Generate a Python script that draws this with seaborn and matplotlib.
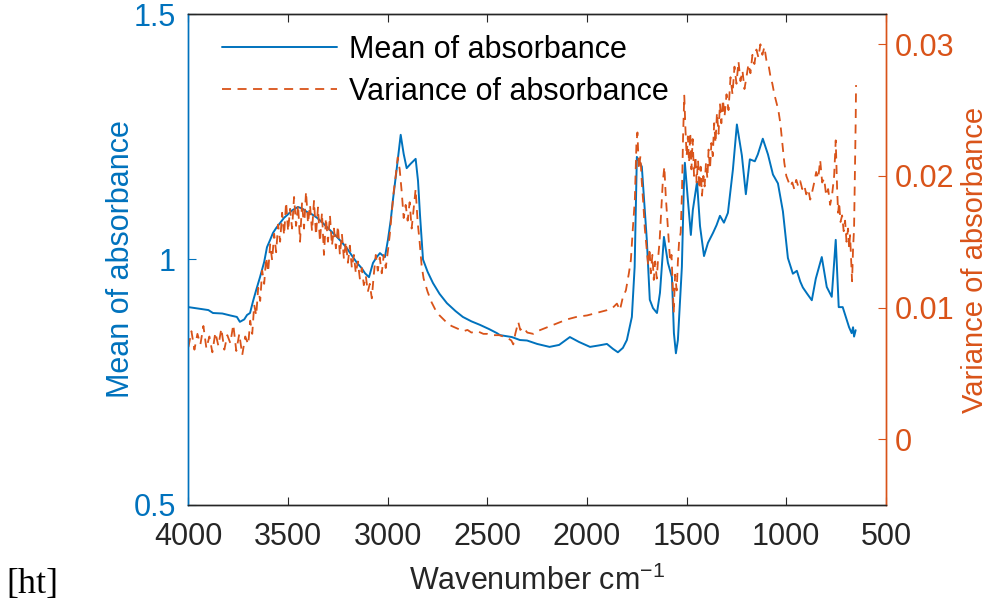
import matplotlib
matplotlib.use("Agg")
import matplotlib.pyplot as plt
import seaborn as sns
import pandas as pd

# ---------------- data ----------------
mean_wn = [4000, 3950, 3900, 3877, 3830, 3790, 3757, 3742, 3720, 3706, 3691, 3676, 3660, 3641,
           3620, 3606, 3590, 3576, 3560, 3541, 3520, 3506, 3480, 3451, 3430, 3406, 3380, 3355,
           3330, 3305, 3280, 3255, 3230, 3205, 3180, 3154, 3130, 3114, 3094, 3074, 3055, 3039,
           3025, 3014, 2999, 2985, 2974, 2954, 2935, 2920, 2905, 2885, 2860, 2848, 2838, 2823,
           2800, 2773, 2740, 2703, 2660, 2623, 2580, 2538, 2490, 2452, 2437, 2377, 2337, 2301,
           2250, 2188, 2140, 2086, 2040, 1985, 1940, 1900, 1870, 1845, 1820, 1800, 1775, 1761,
           1750, 1738, 1725, 1712, 1700, 1685, 1669, 1649, 1634, 1614, 1594, 1574, 1564, 1554,
           1544, 1524, 1514, 1509, 1494, 1479, 1469, 1448, 1433, 1413, 1393, 1368, 1350, 1333,
           1313, 1293, 1268, 1248, 1223, 1203, 1183, 1158, 1143, 1118, 1092, 1067, 1042, 1017,
           992, 967, 947, 930, 917, 895, 872, 852, 822, 797, 772, 752, 737, 717, 697, 685,
           672, 665, 660, 652]
mean_val = [0.903, 0.900, 0.897, 0.891, 0.890, 0.886, 0.883, 0.873, 0.878, 0.887, 0.891, 0.915,
            0.938, 0.964, 0.995, 1.025, 1.040, 1.054, 1.064, 1.074, 1.085, 1.090, 1.100, 1.107,
            1.104, 1.097, 1.092, 1.085, 1.076, 1.066, 1.056, 1.046, 1.035, 1.023, 1.008, 0.993,
            0.982, 0.972, 0.964, 0.993, 1.005, 1.013, 1.008, 1.005, 1.040, 1.080, 1.121, 1.188,
            1.254, 1.215, 1.186, 1.195, 1.205, 1.160, 1.090, 1.000, 0.975, 0.952, 0.930, 0.911,
            0.895, 0.883, 0.874, 0.867, 0.858, 0.850, 0.846, 0.842, 0.836, 0.835, 0.828, 0.822,
            0.826, 0.842, 0.832, 0.822, 0.825, 0.828, 0.818, 0.811, 0.820, 0.836, 0.883, 0.985,
            1.209, 1.200, 1.189, 1.110, 1.040, 0.918, 0.901, 0.891, 0.932, 1.046, 0.993, 0.964,
            0.850, 0.809, 0.836, 0.985, 1.150, 1.197, 1.122, 1.050, 1.101, 1.158, 1.068, 1.007,
            1.034, 1.054, 1.070, 1.089, 1.075, 1.095, 1.183, 1.275, 1.212, 1.133, 1.204, 1.200,
            1.214, 1.246, 1.214, 1.173, 1.155, 1.098, 1.003, 0.971, 0.977, 0.955, 0.943, 0.930,
            0.917, 0.961, 1.005, 0.944, 0.924, 1.040, 0.903, 0.903, 0.877, 0.862, 0.850, 0.862,
            0.843, 0.856]

var_wn = [4000, 3985, 3970, 3955, 3940, 3925, 3910, 3895, 3880, 3865, 3850, 3835, 3820, 3805,
          3790, 3775, 3760, 3745, 3730, 3715, 3700, 3690, 3680, 3670, 3660, 3650, 3640, 3630,
          3620, 3610, 3600, 3590, 3580, 3570, 3560, 3550, 3540, 3530, 3520, 3510, 3500, 3490,
          3480, 3470, 3460, 3450, 3440, 3430, 3420, 3410, 3400, 3390, 3380, 3370, 3360, 3350,
          3340, 3330, 3320, 3310, 3300, 3290, 3280, 3270, 3260, 3250, 3240, 3230, 3220, 3210,
          3200, 3190, 3180, 3170, 3160, 3150, 3140, 3130, 3120, 3110, 3100, 3090, 3080, 3070,
          3060, 3050, 3040, 3030, 3020, 3010, 3000, 2990, 2980, 2970, 2960, 2950, 2940, 2930,
          2920, 2910, 2900, 2890, 2880, 2870, 2860, 2850, 2840, 2830, 2820, 2800, 2780, 2760,
          2740, 2720, 2700, 2680, 2650, 2620, 2600, 2580, 2550, 2520, 2500, 2470, 2440, 2420,
          2400, 2380, 2370, 2360, 2345, 2335, 2320, 2300, 2270, 2250, 2200, 2150, 2100, 2050,
          2000, 1950, 1900, 1870, 1850, 1835, 1820, 1805, 1790, 1780, 1770, 1760, 1752, 1747,
          1740, 1732, 1725, 1718, 1710, 1700, 1693, 1686, 1680, 1672, 1665, 1658, 1650, 1643,
          1636, 1628, 1620, 1612, 1605, 1598, 1590, 1583, 1576, 1570, 1565, 1558, 1550, 1544,
          1538, 1530, 1524, 1518, 1512, 1506, 1500, 1494, 1488, 1482, 1476, 1470, 1463, 1456,
          1450, 1443, 1436, 1430, 1423, 1416, 1410, 1403, 1396, 1390, 1383, 1376, 1369, 1362,
          1355, 1348, 1340, 1333, 1326, 1318, 1310, 1300, 1290, 1280, 1270, 1260, 1250, 1240,
          1230, 1220, 1210, 1200, 1190, 1180, 1170, 1160, 1150, 1140, 1130, 1120, 1110, 1100,
          1090, 1080, 1070, 1060, 1050, 1040, 1030, 1020, 1010, 1000, 990, 980, 970, 960,
          950, 940, 930, 920, 910, 900, 890, 880, 870, 860, 850, 840, 830, 820,
          810, 800, 790, 780, 770, 760, 752, 745, 740, 735, 728, 720, 712, 705,
          698, 690, 685, 680, 675, 670, 665, 660, 656, 652, 650]
var_val = [0.0070, 0.0082, 0.0068, 0.0080, 0.0072, 0.0086, 0.0069, 0.0078, 0.0066, 0.0081,
           0.0071, 0.0084, 0.0068, 0.0079, 0.0073, 0.0087, 0.0067, 0.0080, 0.0064, 0.0078,
           0.0072, 0.0090, 0.0080, 0.0102, 0.0094, 0.0115, 0.0105, 0.0128, 0.0118, 0.0138,
           0.0127, 0.0148, 0.0136, 0.0156, 0.0142, 0.0163, 0.0150, 0.0172, 0.0155, 0.0180,
           0.0158, 0.0175, 0.0160, 0.0184, 0.0162, 0.0178, 0.0150, 0.0180, 0.0160, 0.0188,
           0.0164, 0.0178, 0.0158, 0.0181, 0.0155, 0.0176, 0.0150, 0.0172, 0.0140, 0.0168,
           0.0150, 0.0170, 0.0147, 0.0160, 0.0145, 0.0162, 0.0140, 0.0156, 0.0137, 0.0150,
           0.0134, 0.0147, 0.0130, 0.0140, 0.0126, 0.0135, 0.0122, 0.0130, 0.0117, 0.0124,
           0.0112, 0.0118, 0.0107, 0.0125, 0.0140, 0.0128, 0.0138, 0.0126, 0.0140, 0.0130,
           0.0142, 0.0155, 0.0172, 0.0188, 0.0200, 0.0214, 0.0205, 0.0188, 0.0168, 0.0178,
           0.0166, 0.0180, 0.0160, 0.0175, 0.0190, 0.0165, 0.0150, 0.0132, 0.0122, 0.0112,
           0.0104, 0.0098, 0.0094, 0.0091, 0.0088, 0.0086, 0.0084, 0.0082, 0.0083, 0.0081,
           0.0082, 0.0080, 0.0080, 0.0079, 0.0079, 0.0078, 0.0077, 0.0075, 0.0072, 0.0080,
           0.0089, 0.0083, 0.0085, 0.0081, 0.0080, 0.0082, 0.0085, 0.0088, 0.0091, 0.0093,
           0.0094, 0.0096, 0.0098, 0.0100, 0.0103, 0.0098, 0.0108, 0.0113, 0.0126, 0.0136,
           0.0160, 0.0182, 0.0225, 0.0233, 0.0205, 0.0215, 0.0195, 0.0180, 0.0160, 0.0144,
           0.0132, 0.0145, 0.0126, 0.0140, 0.0121, 0.0135, 0.0122, 0.0138, 0.0150, 0.0172,
           0.0195, 0.0207, 0.0185, 0.0169, 0.0150, 0.0135, 0.0140, 0.0115, 0.0096, 0.0125,
           0.0113, 0.0135, 0.0150, 0.0157, 0.0185, 0.0230, 0.0261, 0.0235, 0.0215, 0.0230,
           0.0210, 0.0233, 0.0205, 0.0228, 0.0200, 0.0215, 0.0195, 0.0212, 0.0190, 0.0207,
           0.0185, 0.0200, 0.0192, 0.0210, 0.0198, 0.0220, 0.0205, 0.0225, 0.0215, 0.0240,
           0.0225, 0.0248, 0.0232, 0.0255, 0.0240, 0.0258, 0.0245, 0.0262, 0.0250, 0.0275,
           0.0262, 0.0283, 0.0270, 0.0287, 0.0272, 0.0280, 0.0266, 0.0275, 0.0285, 0.0278,
           0.0292, 0.0285, 0.0296, 0.0290, 0.0300, 0.0292, 0.0298, 0.0288, 0.0285, 0.0276,
           0.0270, 0.0262, 0.0256, 0.0250, 0.0240, 0.0225, 0.0210, 0.0200, 0.0196, 0.0192,
           0.0195, 0.0190, 0.0197, 0.0192, 0.0196, 0.0190, 0.0193, 0.0186, 0.0190, 0.0182,
           0.0188, 0.0195, 0.0203, 0.0198, 0.0212, 0.0195, 0.0198, 0.0185, 0.0190, 0.0178,
           0.0186, 0.0200, 0.0227, 0.0190, 0.0172, 0.0180, 0.0165, 0.0170, 0.0158, 0.0166,
           0.0150, 0.0160, 0.0145, 0.0155, 0.0138, 0.0120, 0.0145, 0.0160, 0.0200, 0.0240,
           0.0269]

x_ticks = [4000, 3500, 3000, 2500, 2000, 1500, 1000, 500]
left_ticks = [0.5, 1.0, 1.5]
left_tick_labels = ["0.5", "1", "1.5"]
right_ticks = [0.0, 0.01, 0.02, 0.03]
right_tick_labels = ["0", "0.01", "0.02", "0.03"]

label_mean = "Mean of absorbance"
label_var = "Variance of absorbance"
xlabel = r"Wavenumber cm$^{\mathregular{-1}}$"

# ---------------- style ----------------
sns.set_style("white")
FONT = ["Liberation Sans", "DejaVu Sans"]
plt.rcParams["font.family"] = FONT
plt.rcParams["mathtext.fontset"] = "custom"
plt.rcParams["mathtext.rm"] = "Liberation Sans"
FS = 22
BLUE = "#0072BD"
ORANGE = "#D95319"
GRAY = "#262626"

df_mean = pd.DataFrame({"wn": mean_wn, "val": mean_val})
df_var = pd.DataFrame({"wn": var_wn, "val": var_val})

fig = plt.figure(figsize=(9.95, 6.09), dpi=100)
ax = fig.add_axes([0.1894, 0.1708, 0.701, 0.8062])
ax2 = ax.twinx()

sns.lineplot(data=df_mean, x="wn", y="val", ax=ax, color=BLUE, lw=1.4,
             estimator=None, sort=False, label=label_mean, legend=False)
sns.lineplot(data=df_var, x="wn", y="val", ax=ax2, color=ORANGE, lw=1.3,
             estimator=None, sort=False, label=label_var, legend=False)
for l in ax2.lines:
    l.set_linestyle((0, (5.0, 3.6)))

ax.set_xlim(4000, 500)
ax.set_ylim(0.5, 1.5)
ax2.set_ylim(-0.005, 0.0323)

ax.set_xticks(x_ticks)
ax.set_xticklabels([str(t) for t in x_ticks], fontsize=FS, color=GRAY)
ax.set_yticks(left_ticks)
ax.set_yticklabels(left_tick_labels, fontsize=FS, color=BLUE)
ax2.set_yticks(right_ticks)
ax2.set_yticklabels(right_tick_labels, fontsize=FS, color=ORANGE)

ax.tick_params(axis="x", direction="in", length=6, width=0.8, colors=GRAY,
               top=True, bottom=True, pad=12, labelcolor=GRAY)
ax.tick_params(axis="y", direction="in", length=6, width=0.8, colors=BLUE,
               left=True, right=False, pad=9, labelcolor=BLUE)
ax2.tick_params(axis="y", direction="in", length=6, width=0.8, colors=ORANGE,
                right=True, left=False, pad=6, labelcolor=ORANGE)

for a in (ax, ax2):
    a.spines["top"].set_color(GRAY)
    a.spines["bottom"].set_color(GRAY)
    a.spines["left"].set_color(BLUE)
    a.spines["right"].set_color(ORANGE)
    for s in a.spines.values():
        s.set_linewidth(1.0)
        s.set_visible(True)

ax.set_xlabel(xlabel, fontsize=FS, color=GRAY, labelpad=10)
ax.set_ylabel(label_mean, fontsize=FS, color=BLUE, labelpad=-2)
ax2.set_ylabel(label_var, fontsize=21, color=ORANGE, labelpad=5)

handles = ax.lines[:1] + ax2.lines[:1]
leg = ax.legend(handles, [label_mean, label_var], loc="upper left",
                bbox_to_anchor=(0.048, 0.958), frameon=False, fontsize=FS,
                handlelength=3.75, handletextpad=0.4, labelspacing=0.4,
                borderpad=0, borderaxespad=0)
for t in leg.get_texts():
    t.set_color("black")

fig.text(0.006, 0.026, "[ht]", fontsize=26, family=["Liberation Serif", "DejaVu Serif"],
         color="black")

fig.savefig("out.png", dpi=100)
